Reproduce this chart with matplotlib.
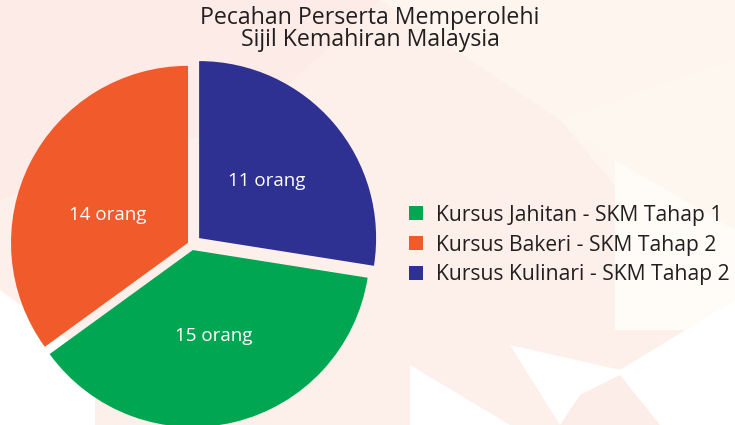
import matplotlib
matplotlib.use("Agg")
import matplotlib.pyplot as plt
from matplotlib.patches import Polygon

# ---- data ----
categories = ["Kursus Kulinari - SKM Tahap 2",
              "Kursus Jahitan - SKM Tahap 1",
              "Kursus Bakeri - SKM Tahap 2"]
values = [11, 15, 14]
colors = ["#2E3192", "#00A651", "#F15A2B"]
legend_order = [1, 2, 0]
title = "Pecahan Perserta Memperolehi\nSijil Kemahiran Malaysia"
unit = "orang"

W, H = 735, 425
plt.rcParams['font.family'] = ['Open Sans', 'DejaVu Sans']
fig = plt.figure(figsize=(W / 100, H / 100), dpi=100, facecolor="#FDF0EB")
ax = fig.add_axes([0, 0, 1, 1])
ax.set_facecolor("none")

# faint background decoration (pixel coords, y from top)
def poly(pts, color, alpha=1.0):
    ax.add_patch(Polygon([(x, H - y) for x, y in pts], closed=True,
                         facecolor=color, edgecolor="none", alpha=alpha, zorder=0))

poly([(380, 0), (735, 0), (735, 330), (560, 120)], "#FEF5EE")
poly([(0, 0), (380, 0), (250, 120), (0, 200)], "#FCEBE6")
poly([(560, 120), (735, 60), (735, 330), (615, 160)], "#FEF7F0")
poly([(615, 160), (735, 230), (735, 330), (615, 330)], "#FFFBF7")
poly([(0, 290), (95, 360), (95, 425), (0, 425)], "#FFFFFF")
poly([(410, 365), (510, 425), (410, 425)], "#FFFFFF")
poly([(510, 345), (620, 370), (735, 300), (735, 425), (560, 425)], "#FFFFFF")
poly([(580, 395), (620, 375), (660, 425), (560, 425)], "#FCEDE8")

total = sum(values)
cx, cy, R = 191.5, H - 244.6, 177
explode = [10, 5.6, 3.9]

wedges, _, autotexts = ax.pie(
    values, colors=colors, startangle=90, counterclock=False,
    center=(cx, cy), radius=R, explode=explode,
    autopct=lambda p: f"{round(p * total / 100)} {unit}", pctdistance=0.5,
    textprops=dict(color="white", fontsize=13.5),
    wedgeprops=dict(linewidth=0))
for w in wedges:
    w.set_zorder(2)
for t in autotexts:
    t.set_zorder(3)
autotexts[2].set_position((108, H - 215))

ax.set_xlim(0, W)
ax.set_ylim(0, H)
ax.set_aspect("auto")
ax.axis("off")

fig.text(370 / W, 1 - 29 / H, title, ha="center", va="center",
         fontsize=16.7, color="#231F20", linespacing=0.88)

leg = fig.legend([wedges[i] for i in legend_order],
                 [categories[i] for i in legend_order],
                 loc="center left", bbox_to_anchor=(409 / W, 1 - 245 / H),
                 frameon=False, fontsize=15.2, handlelength=0.66, handleheight=0.66,
                 handletextpad=0.6, labelspacing=0.42, borderpad=0, borderaxespad=0,
                 labelcolor="#231F20")

fig.savefig("out.png", dpi=100, facecolor=fig.get_facecolor())
